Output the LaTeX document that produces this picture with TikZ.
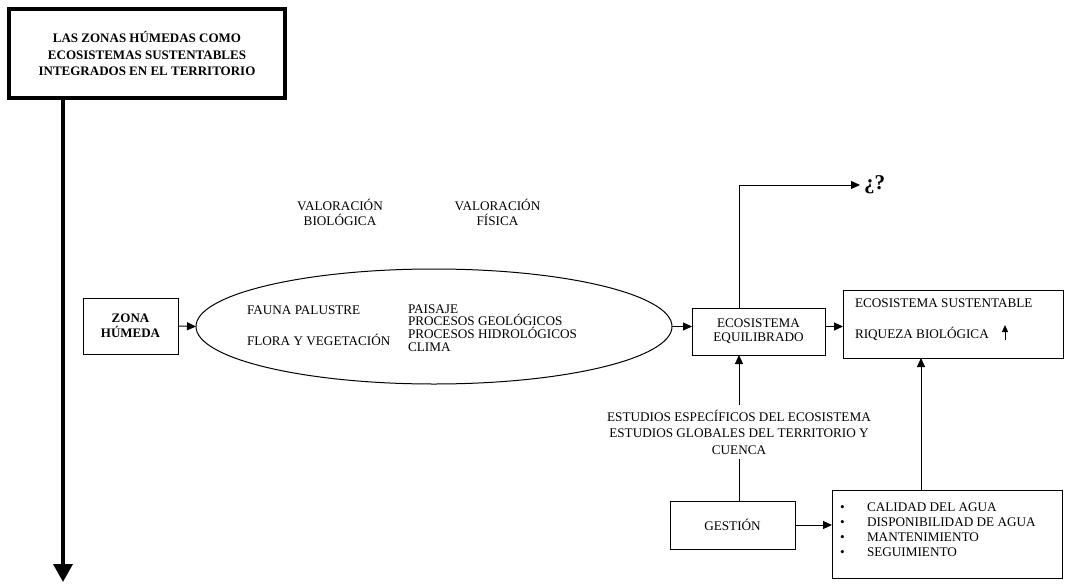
\documentclass[tikz,border=0pt]{standalone}
\usepackage{fontspec}
\setmainfont{Liberation Serif}
\usetikzlibrary{arrows.meta,shapes.geometric}
\begin{document}
\begin{tikzpicture}[x=1pt,y=-1pt,
  every node/.style={font=\fontsize{13.2}{15}\selectfont, inner sep=0pt, outer sep=0pt},
  box/.style={draw, line width=1pt, rectangle},
  conn/.style={line width=1pt, -{Triangle[length=9pt,width=8pt]}},
  plain/.style={line width=1pt},
  txt/.style={align=center}]
\useasboundingbox (0,0) rectangle (1067,583);
% title
\node[box, line width=4pt, minimum width=276pt, minimum height=89pt, align=center,
      font=\bfseries\fontsize{13}{16.5}\selectfont] (title) at (147,53.5)
  {LAS ZONAS HÚMEDAS COMO\\ECOSISTEMAS SUSTENTABLES\\INTEGRADOS EN EL TERRITORIO};
\coordinate (bot) at (63,582);
\draw[line width=3.5pt, -{Triangle[length=18pt,width=19pt]}] (title.south -| bot) -- (bot);
% labels
\node[txt] (valbio) at (340,212.5) {VALORACIÓN\\BIOLÓGICA};
\node[txt] (valfis) at (497.5,212.5) {VALORACIÓN\\FÍSICA};
% zona humeda
\node[box, minimum width=95pt, minimum height=56pt, align=center,
      font=\bfseries\fontsize{13}{15}\selectfont] (zona) at (130.5,326) {ZONA\\HÚMEDA};
% ellipse
\node[draw, ellipse, line width=1pt, minimum width=476pt, minimum height=115pt] (ell) at (434,326.5) {};
\draw[conn] (zona.east) -- (ell.west);
\node[anchor=west] (fauna) at (247,310) {FAUNA PALUSTRE};
\node[anchor=west] (flora) at (247,340) {FLORA Y VEGETACIÓN};
\node[anchor=west, align=left, font=\fontsize{13.2}{12.8}\selectfont] (fis) at (408,328)
  {PAISAJE\\PROCESOS GEOLÓGICOS\\PROCESOS HIDROLÓGICOS\\CLIMA};
% equilibrado
\node[box, minimum width=133pt, minimum height=47pt, align=center,
      font=\fontsize{13.2}{14}\selectfont] (equil) at (758.5,331.5) {ECOSISTEMA\\EQUILIBRADO};
\draw[conn] (ell.east) -- (ell.east -| equil.west);
% sustentable
\node[box, minimum width=220pt, minimum height=68pt] (sust) at (953,324) {};
\node[anchor=west] (sust1) at (855,303) {ECOSISTEMA SUSTENTABLE};
\node[anchor=west] (sust2) at (855,334) {RIQUEZA BIOLÓGICA};
\coordinate (ua) at (1005,340);
\coordinate (ub) at (1005,325);
\draw[line width=1pt, -{Triangle[length=7pt,width=6pt]}] (ua) -- (ub);
\draw[conn] (equil.east |- ell.east) -- (sust.west |- ell.east);
% question
\node[anchor=west, font=\bfseries\fontsize{21}{21}\selectfont] (q) at (864,185) {¿?};
% estudios
\node[txt, font=\fontsize{13.2}{16.5}\selectfont] (est) at (739,432)
  {ESTUDIOS ESPECÍFICOS DEL ECOSISTEMA\\ESTUDIOS GLOBALES DEL TERRITORIO Y\\CUENCA};
\draw[conn] (equil.north -| est) |- ([xshift=-4pt]q.west);
\draw[conn] ([yshift=5pt]est.north) -- (equil.south -| est);
% gestion
\node[box, minimum width=125pt, minimum height=48pt] (gest) at (732.5,525) {GESTIÓN};
\draw[plain] (gest.north -| est) -- ([yshift=-5pt]est.south);
% bullets
\node[box, minimum width=230pt, minimum height=88pt] (bul) at (947,534) {};
\node[anchor=west, align=left, font=\fontsize{13.2}{15}\selectfont] (bultxt) at (840,530)
  {\makebox[27pt][l]{•}CALIDAD DEL AGUA\\
   \makebox[27pt][l]{•}DISPONIBILIDAD DE AGUA\\
   \makebox[27pt][l]{•}MANTENIMIENTO\\
   \makebox[27pt][l]{•}SEGUIMIENTO};
\draw[conn] (gest.east) -- (gest.east -| bul.west);
\coordinate (bx) at (921,0);
\draw[conn] (bul.north -| bx) -- (sust.south -| bx);
\end{tikzpicture}
\end{document}
